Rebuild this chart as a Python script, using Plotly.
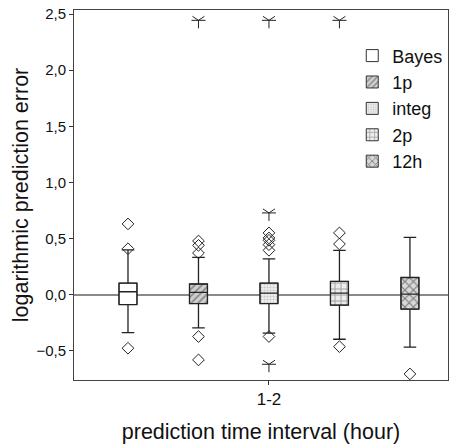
import plotly.graph_objects as go

series = ["Bayes", "1p", "integ", "2p", "12h"]
q1 = [-0.087, -0.078, -0.078, -0.092, -0.128]
median = [0.027, 0.021, 0.015, 0.015, 0.006]
q3 = [0.104, 0.096, 0.104, 0.119, 0.154]
lower_whisker = [-0.337, -0.295, -0.342, -0.396, -0.467]
upper_whisker = [0.400, 0.333, 0.319, 0.396, 0.512]
outliers = [
    [0.631, 0.410, -0.476],
    [0.479, 0.440, 0.372, -0.372, -0.580],
    [0.551, 0.506, 0.485, 0.446, 0.396, -0.372],
    [0.551, 0.452, -0.462],
    [-0.705],
]
extremes = [
    [],
    [2.444],
    [2.444, 0.729, -0.619],
    [2.444],
    [],
]
category_label = "1-2"

patterns = [
    dict(shape="", bgcolor="white"),
    dict(shape="/", fgcolor="#444444", bgcolor="#d0d0d0", size=5, solidity=0.35),
    dict(shape=".", fgcolor="#9a9a9a", bgcolor="#f0f0f0", size=3, solidity=0.4),
    dict(shape="+", fgcolor="#555555", bgcolor="#ececec", size=6, solidity=0.3),
    dict(shape="x", fgcolor="#222222", bgcolor="#d8d8d8", size=6, solidity=0.35),
]

W = 0.255
fig = go.Figure()
pos = list(range(len(series)))

for i, name in enumerate(series):
    fig.add_trace(go.Bar(
        x=[pos[i]], y=[q3[i] - q1[i]], base=[q1[i]], width=W, name=name,
        legendgroup=name,
        marker=dict(color="white", pattern=patterns[i], line=dict(color="#333333", width=1)),
        showlegend=True, hoverinfo="skip",
    ))

for i, name in enumerate(series):
    fig.add_trace(go.Box(
        x=[pos[i]], q1=[q1[i]], median=[median[i]], q3=[q3[i]],
        lowerfence=[lower_whisker[i]], upperfence=[upper_whisker[i]],
        width=W, whiskerwidth=0.7, fillcolor="rgba(0,0,0,0)",
        line=dict(color="#222222", width=1.3), boxpoints=False,
        showlegend=False, name=name, legendgroup=name,
    ))
    if outliers[i]:
        fig.add_trace(go.Scatter(
            x=[pos[i]] * len(outliers[i]), y=outliers[i], mode="markers",
            marker=dict(symbol="diamond-open", size=9, color="#222222", line=dict(width=1)),
            showlegend=False, hoverinfo="skip", legendgroup=name,
        ))
    if extremes[i]:
        for sym in ["y-down-open", "line-ew-open"]:
            fig.add_trace(go.Scatter(
                x=[pos[i]] * len(extremes[i]), y=extremes[i], mode="markers",
                marker=dict(symbol=sym, size=10, color="#222222", line=dict(width=1, color="#222222")),
                showlegend=False, hoverinfo="skip", legendgroup=name,
            ))

fig.update_layout(
    width=457, height=446,
    margin=dict(l=74, r=9, t=10, b=66),
    plot_bgcolor="white", paper_bgcolor="white",
    barmode="overlay", boxmode="overlay",
    separators=", ",
    font=dict(family="Liberation Sans, Arial, sans-serif", color="#111111"),
    legend=dict(x=0.744, y=0.926, xanchor="left", yanchor="top", font=dict(size=18),
                bgcolor="rgba(0,0,0,0)", tracegroupgap=0, traceorder="grouped",
                itemwidth=30),
)
fig.update_xaxes(
    range=[-0.766, 4.54], tickvals=[2], ticktext=[category_label],
    ticks="outside", ticklen=4, tickcolor="#333333", tickfont=dict(size=17),
    showline=True, linecolor="#444444", linewidth=1, mirror=True, showgrid=False,
    zeroline=False, automargin=False,
    title=dict(text="prediction time interval (hour)", font=dict(size=21.5), standoff=15),
)
fig.update_yaxes(
    range=[-0.759, 2.536], tickvals=[-0.5, 0, 0.5, 1, 1.5, 2, 2.5], tickformat=".1f",
    ticks="outside", ticklen=4, tickcolor="#333333", tickfont=dict(size=15),
    showline=True, linecolor="#444444", linewidth=1, mirror=True, showgrid=False,
    zeroline=True, zerolinecolor="#8a8a8a", zerolinewidth=1.5, automargin=False,
    title=dict(text="logarithmic prediction error", font=dict(size=21.5), standoff=1),
)

fig.write_html("out.html", config={"displayModeBar": False},
               post_script="document.body.style.margin='0';")
